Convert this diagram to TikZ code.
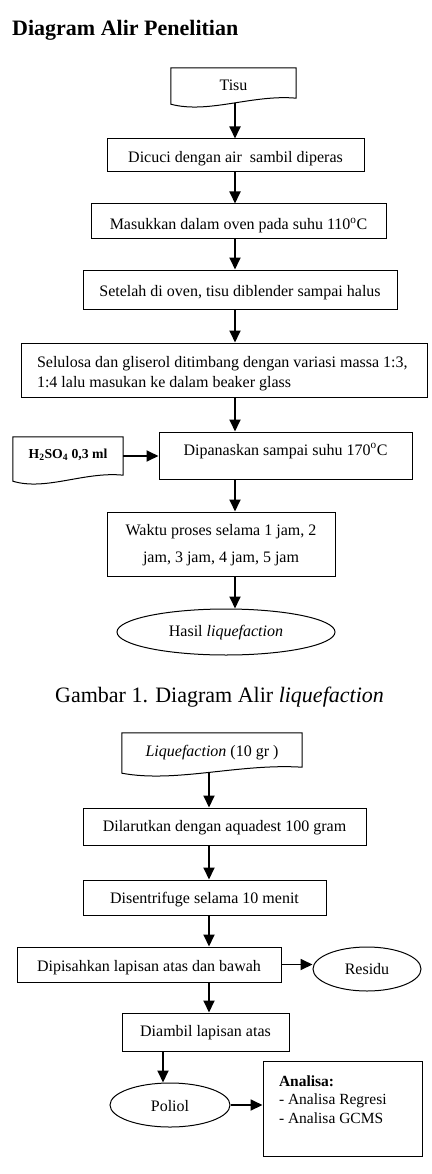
\documentclass[tikz,border=0pt]{standalone}
\usepackage{fontspec}
\setmainfont{Liberation Serif}
\usetikzlibrary{shapes.geometric,arrows.meta,calc}
\newcommand\docpath[1]{%
  \draw[docline] (#1.north west) -- (#1.north east) -- (#1.south east)
    .. controls ($(#1.south west)!0.65!(#1.south east)+(0,-4)$) and ($(#1.south west)!0.3!(#1.south east)+(0,16)$) .. ($(#1.south west)+(0,6)$) -- cycle;}
\begin{document}
\begin{tikzpicture}[x=1pt,y=-1pt,
  txt/.style={font=\fontsize{16}{20}\selectfont},
  box/.style={txt, draw, line width=1pt, rectangle, inner xsep=2pt, inner ysep=0pt},
  ell/.style={txt, draw, ellipse, line width=1pt, inner sep=0pt},
  docnode/.style={txt, rectangle, inner xsep=2pt, inner ysep=0pt},
  docline/.style={line width=1pt, line join=miter},
  arr/.style={line width=1.8pt, -{Triangle[length=12pt,width=11pt]}},
  sz/.style 2 args={minimum width=#1pt, minimum height=#2pt},
  bl/.style 2 args={text height=#1pt, text depth=#2pt},
]
\useasboundingbox (0,0) rectangle (431,1174);

% title
\node[anchor=base west, inner sep=0pt, font=\fontsize{22}{26}\selectfont\bfseries] (title) at (12,36) {Diagram Alir Penelitian};

% first diagram
\node[docnode, sz={125}{30}, bl={19.7}{4.3}] (tisu) at (233.5,83) {Tisu};
\node[box, sz={257}{33}, bl={18.8}{5.2}] (cuci) at (235.5,155.5) {Dicuci dengan air\ \ sambil diperas\hspace{11.6pt}};
\node[box, sz={295}{35}, bl={19.8}{4.2}] (oven) at (238.5,221.5) {Masukkan dalam oven pada suhu 110\textsuperscript{o}C\hspace{6pt}};
\node[box, sz={314}{39}, bl={19.2}{4.8}] (blender) at (240,289.5) {Setelah di oven, tisu diblender sampai halus};
\node[box, sz={406}{54}, bl={9.7}{14.3}] (timbang) at (224,370) {\makebox[374pt][l]{\begin{tabular}[t]{@{}l@{}}Selulosa dan gliserol ditimbang dengan variasi massa 1:3,\\1:4 lalu masukan ke dalam beaker glass\end{tabular}}};
\node[box, sz={253}{47}, bl={11.5}{12.5}] (panas) at (285.5,455.5) {Dipanaskan sampai suhu 170\textsuperscript{o}C\hspace{17.6pt}};
\node[docnode, sz={110}{38}, bl={14.3}{9.7}, font=\fontsize{13.7}{16}\selectfont\bfseries] (h2so4) at (68,456) {H\textsubscript{2}SO\textsubscript{4} 0,3 ml};
\node[box, sz={228}{64}, bl={3}{21}, font=\fontsize{16}{27.3}\selectfont] (waktu) at (221,544) {\begin{tabular}[t]{@{}c@{}}Waktu proses selama 1 jam, 2\\jam, 3 jam, 4 jam, 5 jam\end{tabular}};
\node[ell, sz={218}{46}, bl={16.7}{7.3}] (hasil) at (226,632) {Hasil \textit{liquefaction}};

% caption
\node[anchor=base, inner sep=0pt, font=\fontsize{22}{26}\selectfont] (caption) at (219.5,702.5) {Gambar 1. Diagram Alir \textit{liquefaction}};

% second diagram
\node[docnode, sz={180}{34}, bl={18.7}{5.3}] (liq) at (212,750) {\textit{Liquefaction} (10 gr )};
\node[box, sz={283}{37}, bl={17.2}{6.8}] (larut) at (224.5,826.5) {Dilarutkan dengan aquadest 100 gram\hspace{9pt}};
\node[box, sz={243}{35}, bl={17.8}{6.2}] (sentri) at (204.5,897.5) {Disentrifuge selama 10 menit\hspace{24pt}};
\node[box, sz={264}{35}, bl={19.2}{4.8}] (pisah) at (149,964.5) {Dipisahkan lapisan atas dan bawah\hspace{8pt}};
\node[ell, sz={108}{44}, bl={17}{7}] (residu) at (367,969) {Residu};
\node[box, sz={167}{38}, bl={16.7}{7.3}] (ambil) at (205.5,1032) {Diambil lapisan atas\hspace{6pt}};
\node[ell, sz={120}{44}, bl={18}{6}] (poliol) at (170,1105) {Poliol};
\node[box, sz={159}{95}, bl={7.5}{52.5}, font=\fontsize{15.5}{18.5}\selectfont] (analisa) at (342.5,1108.5) {\makebox[127pt][l]{\begin{tabular}[t]{@{}l@{}}\textbf{Analisa:}\\- Analisa Regresi\\- Analisa GCMS\end{tabular}}};

% document shapes
\docpath{tisu}
\docpath{h2so4}
\docpath{liq}

% columns for vertical connectors
\coordinate (c1) at (235,0);
\coordinate (c2) at (209,0);
\coordinate (c3) at (163,0);
\coordinate (tisuw) at ($(tisu.south)+(0,5)$);
\coordinate (liqw) at ($(liq.south)+(0,5)$);

% connectors
\draw[arr] (tisuw -| c1) -- (cuci.north -| c1);
\draw[arr] (cuci.south -| c1) -- (oven.north -| c1);
\draw[arr] (oven.south -| c1) -- (blender.north -| c1);
\draw[arr] (blender.south -| c1) -- (timbang.north -| c1);
\draw[arr] (timbang.south -| c1) -- (panas.north -| c1);
\draw[arr] (h2so4.east) -- (h2so4.east -| panas.west);
\draw[arr] (panas.south -| c1) -- (waktu.north -| c1);
\draw[arr] (waktu.south -| c1) -- (hasil.north -| c1);
\draw[arr] (liqw -| c2) -- (larut.north -| c2);
\draw[arr] (larut.south -| c2) -- (sentri.north -| c2);
\draw[arr] (sentri.south -| c2) -- (pisah.north -| c2);
\draw[arr] (pisah.east) -- (pisah.east -| residu.west);
\draw[arr] (pisah.south -| c2) -- (ambil.north -| c2);
\draw[arr] (ambil.south -| c3) -- (poliol.north -| c3);
\draw[arr] (poliol.east) -- (poliol.east -| analisa.west);
\end{tikzpicture}
\end{document}
